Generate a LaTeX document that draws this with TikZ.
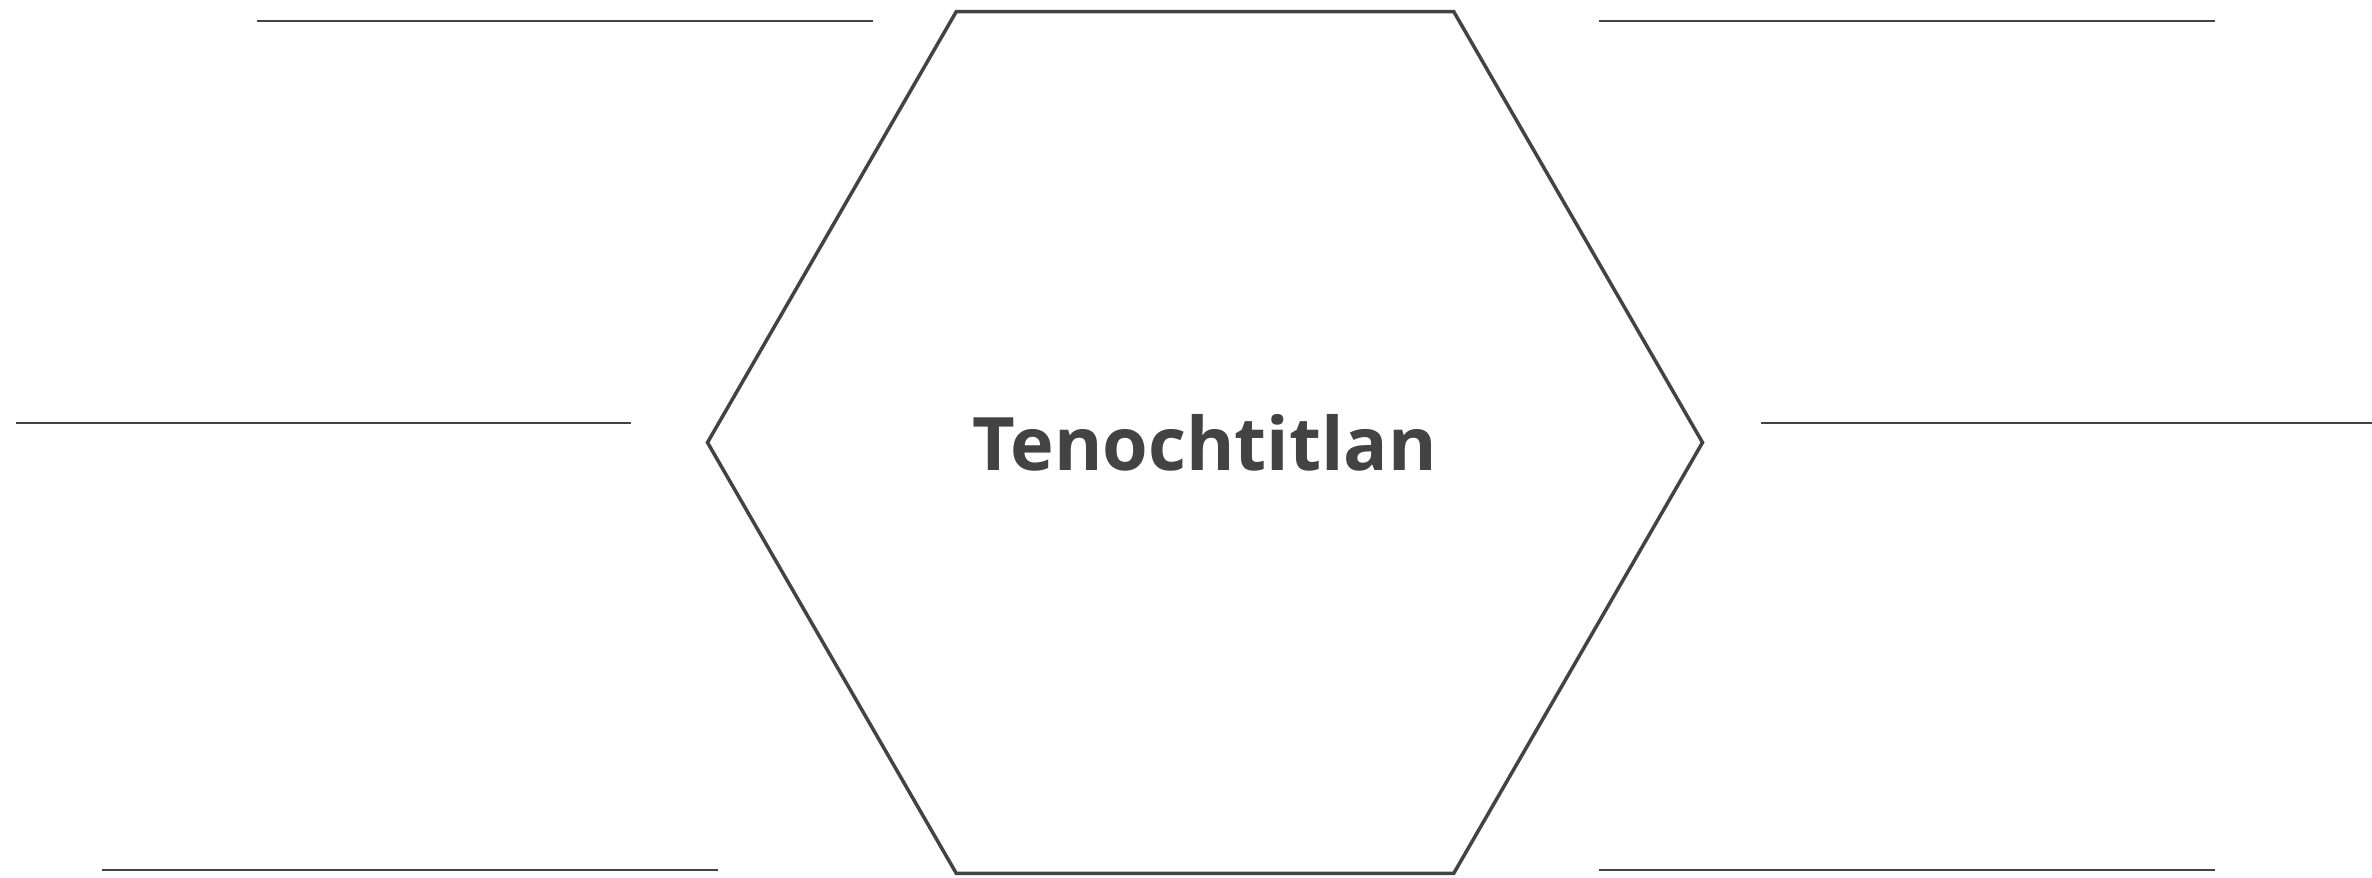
\documentclass[tikz,border=0pt]{standalone}
\usepackage{fontspec}
\setsansfont{Open Sans}
\usetikzlibrary{shapes.geometric}
\definecolor{ink}{HTML}{434343}

\begin{document}
\begin{tikzpicture}[
  hexa/.style={regular polygon, regular polygon sides=6, draw=ink,
               line width=0.07cm, minimum size=19.9cm, inner sep=0pt,
               text=ink, font=\sffamily\bfseries\fontsize{42}{50}\selectfont},
  blank/.style={draw=ink, line width=0.04cm}
]
\useasboundingbox (0,0) rectangle (47.44,17.56);

% Centre hexagon with the name in it.
\node[hexa] (city) at (24.1,8.71) {Tenochtitlan};

% Writing lines, three on each side.
\draw[blank] (5.14,17.14) -- (17.46,17.14);
\draw[blank] (0.32,9.10)  -- (12.62,9.10);
\draw[blank] (2.04,0.16)  -- (14.36,0.16);
\draw[blank] (31.98,17.14) -- (44.30,17.14);
\draw[blank] (35.22,9.10)  -- (47.44,9.10);
\draw[blank] (31.98,0.16)  -- (44.30,0.16);

\end{tikzpicture}
\end{document}
